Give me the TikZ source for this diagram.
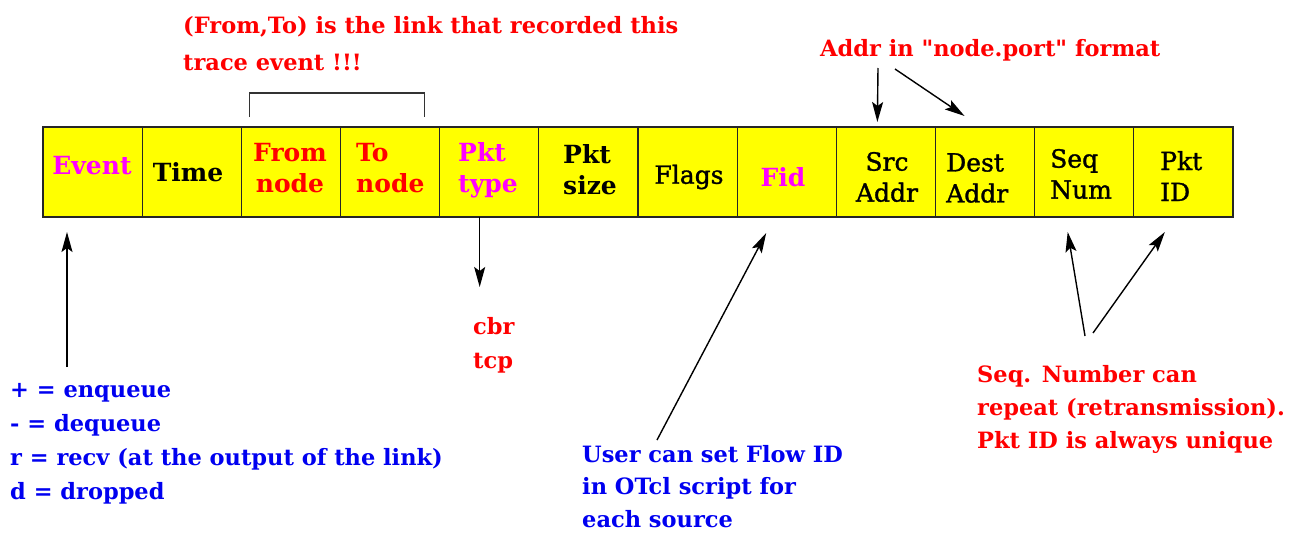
\documentclass[tikz,border=0pt]{standalone}
\usepackage{fontspec}
\newfontfamily\figfont{DejaVu Serif}
\newfontfamily\figmed[FakeBold=1.3]{DejaVu Serif}
\usetikzlibrary{arrows.meta,calc}
\definecolor{cellyellow}{RGB}{255,255,0}
\definecolor{tpink}{RGB}{255,0,255}
\definecolor{tred}{RGB}{255,0,0}
\definecolor{tblue}{RGB}{0,0,240}
\begin{document}
\begin{tikzpicture}[x=1pt,y=-1pt,
  cell/.style={draw=black!85,line width=1.2pt,fill=cellyellow,minimum width=99.17pt,minimum height=90pt,inner sep=0pt,outer sep=0pt,anchor=north west},
  ctext/.style={font=\figfont\bfseries\fontsize{25}{31}\selectfont,inner sep=0pt,align=center},
  ltext/.style={ctext,align=left,anchor=west},
  rtext/.style={font=\figmed\fontsize{25}{31}\selectfont,inner sep=0pt,align=center},
  rltext/.style={rtext,align=left,anchor=west},
  note/.style={font=\figfont\bfseries\fontsize{22.5}{34}\selectfont,inner sep=0pt,align=left,anchor=north west},
  arr/.style={line width=1.4pt,-{Stealth[length=20pt,width=11pt,inset=4pt]}},
  bracket/.style={line width=1.2pt,draw=black!80}
]
\useasboundingbox (0,0) rectangle (1298,541);
\foreach \i in {1,...,12} \node[cell] (c\i) at ({43+99.17*(\i-1)},127) {};
% cell texts
\node[ctext,text=tpink] (tEvent) at (92,166) {Event};
\node[ctext] (tTime) at (188,172) {Time};
\node[ctext,text=tred] (tFrom) at (290,168) {From\\node};
\node[ltext,text=tred] (tTo) at (356,168) {To\\node};
\node[ltext,text=tpink] (tType) at (458,170) {Pkt\\type};
\node[ltext] (tSize) at (563,170) {Pkt\\size};
\node[rtext] (tFlags) at (689,177) {Flags};
\node[ctext,text=tpink] (tFid) at (783,177) {Fid};
\node[rtext] (tSrc) at (887,177) {Src\\Addr};
\node[rltext] (tDest) at (946,178) {Dest\\Addr};
\node[rltext] (tSeq) at (1050,174) {Seq\\Num};
\node[rltext] (tPid) at (1160,176) {Pkt\\ID};
% bracket
\draw[bracket] ($(c3.north west)+(8,-10)$) |- ($(c4.north east)+(-15,-34)$) -- ($(c4.north east)+(-15,-10)$);
% notes
\node[note,text=tred,font=\figfont\bfseries\fontsize{22.5}{37}\selectfont] (linknote) at (183,16) {(From,To) is the link that recorded this\\trace event !!!};
\node[note,text=tred] (addrnote) at (820,39) {Addr in "node.port" format};
\node[note,text=tred] (typenote) at (473,317) {cbr\\tcp};
\node[note,text=tblue] (eventnote) at (10,383) {+ = enqueue\\- = dequeue\\r = recv (at the output of the link)\\d = dropped};
\node[note,text=tblue,font=\figfont\bfseries\fontsize{22.5}{32.5}\selectfont] (fidnote) at (582,445) {User can set Flow ID\\in OTcl script for\\each source};
\node[note,text=tred,font=\figfont\bfseries\fontsize{22.5}{33}\selectfont] (seqnote) at (977,365) {Seq. Number can\\repeat (retransmission).\\Pkt ID is always unique};
% arrows
\coordinate (evs) at (67,367);
\coordinate (addrs1) at (878,68);
\coordinate (addrs2) at (895,69);
\coordinate (fids) at (657,440);
\coordinate (seqs1) at (1085,336);
\coordinate (seqs2) at (1093,333);
\draw[arr] (evs) -- ($(c1.south west)+(24,15)$);
\draw[arr] (addrs1) -- ($(c9.north west)+(41,-5)$);
\draw[arr] (addrs2) -- ($(c10.north west)+(29,-11)$);
\draw[arr] ($(c5.south west)+(40,0)$) -- ($(c5.south west)+(40,70)$);
\draw[arr] (fids) -- ($(c8.south west)+(29,16)$);
\draw[arr] (seqs1) -- ($(c11.south west)+(33,15)$);
\draw[arr] (seqs2) -- ($(c12.south west)+(31,15)$);
\end{tikzpicture}
\end{document}
